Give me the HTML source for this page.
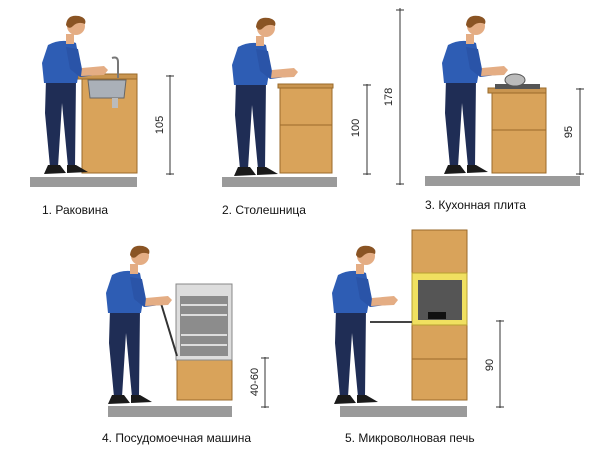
<!DOCTYPE html>
<html><head><meta charset="utf-8"><style>
html,body{margin:0;padding:0;background:#fff;width:600px;height:450px;overflow:hidden}
text{font-family:"Liberation Sans",sans-serif}
</style></head><body>
<svg width="600" height="450" viewBox="0 0 600 450" xmlns="http://www.w3.org/2000/svg">
<defs>
<g id="p">
  <path d="M10,66 L40,66 L39,154 L32,154 L26,90 L22,154 L14,154 L9,100 Z" fill="#1f2d55"/>
  <path d="M12,152 L24,152 L30,160 L8,161 Z M31,152 L40,152 L52,159 L31,160 Z" fill="#1a1a1a"/>
  <path d="M12,32 Q25,25 40,30 L44,52 L41,70 L8,70 L6,50 Z" fill="#2e5db4"/>
  <path d="M30,34 L42,36 L46,56 L68,54 L69,61 L44,64 L34,56 Z" fill="#2a54a8"/>
  <path d="M46,55 L68,53 L72,57 L68,62 L45,63 Z" fill="#e4ad84"/>
  <rect x="30" y="21" width="8" height="10" fill="#e4ad84"/>
  <circle cx="40" cy="13" r="9" fill="#e4ad84"/>
  <path d="M30,12 Q31,1 43,3 Q51,5 49,11 Q42,8 37,13 Q33,17 30,12 Z" fill="#8a5424"/>
</g>
</defs>
<g fill="#9a9a9a">
<rect x="30" y="177" width="107" height="10"/>
<rect x="222" y="177" width="115" height="10"/>
<rect x="425" y="176" width="155" height="10"/>
<rect x="108" y="406" width="124" height="11"/>
<rect x="340" y="406" width="127" height="11"/>
</g>
<g fill="#d9a35a" stroke="#9a6a2a" stroke-width="1">
<rect x="82" y="78" width="55" height="95"/>
<rect x="78" y="74" width="59" height="5" fill="#c99550"/>
<rect x="280" y="87" width="52" height="86"/>
<rect x="278" y="84" width="55" height="4" fill="#c99550"/>
<line x1="280" y1="125" x2="332" y2="125"/>
<rect x="492" y="92" width="54" height="81"/>
<rect x="488" y="88" width="58" height="5" fill="#c99550"/>
<line x1="492" y1="130" x2="546" y2="130"/>
<rect x="177" y="360" width="55" height="40"/>
<rect x="412" y="230" width="55" height="43"/>
<rect x="412" y="325" width="55" height="34"/>
<rect x="412" y="359" width="55" height="41"/>
</g>
<path d="M88,80 L126,80 L124,98 L90,98 Z" fill="#aab0b8" stroke="#666"/>
<path d="M118,78 L118,62 Q118,56 112,58" fill="none" stroke="#777" stroke-width="2"/>
<rect x="112" y="98" width="6" height="10" fill="#bbb"/>
<rect x="495" y="84" width="45" height="5" fill="#555"/>
<ellipse cx="515" cy="80" rx="10" ry="6" fill="#bbb" stroke="#555"/>
<rect x="176" y="284" width="56" height="76" fill="#ddd" stroke="#888"/>
<rect x="180" y="296" width="48" height="60" fill="#8c8c8c"/>
<path d="M181,305 h46 M181,315 h46 M181,335 h46 M181,345 h46" stroke="#ddd" stroke-width="2"/>
<line x1="160" y1="300" x2="177" y2="356" stroke="#333" stroke-width="2"/>
<rect x="412" y="273" width="55" height="52" fill="#f0e060" stroke="#b8a030"/>
<rect x="418" y="280" width="44" height="40" fill="#555"/>
<rect x="428" y="312" width="18" height="7" fill="#111"/>
<line x1="370" y1="322" x2="412" y2="322" stroke="#444" stroke-width="2"/>
<use href="#p" transform="translate(36,13)"/>
<use href="#p" transform="translate(226,15)"/>
<use href="#p" transform="translate(436,13)"/>
<use href="#p" transform="translate(100,243)"/>
<use href="#p" transform="translate(326,243)"/>
<g stroke="#333" stroke-width="1">
<line x1="170" y1="75" x2="170" y2="175"/><line x1="166" y1="76" x2="174" y2="76"/><line x1="166" y1="174" x2="174" y2="174"/>
<line x1="367" y1="84" x2="367" y2="175"/><line x1="363" y1="85" x2="371" y2="85"/><line x1="363" y1="174" x2="371" y2="174"/>
<line x1="400" y1="8" x2="400" y2="185"/><line x1="396" y1="10" x2="404" y2="10"/><line x1="396" y1="184" x2="404" y2="184"/>
<line x1="580" y1="88" x2="580" y2="175"/><line x1="576" y1="89" x2="584" y2="89"/><line x1="576" y1="174" x2="584" y2="174"/>
<line x1="265" y1="357" x2="265" y2="408"/><line x1="261" y1="358" x2="269" y2="358"/><line x1="261" y1="407" x2="269" y2="407"/>
<line x1="500" y1="320" x2="500" y2="408"/><line x1="496" y1="321" x2="504" y2="321"/><line x1="496" y1="407" x2="504" y2="407"/>
</g>
<g font-size="11" fill="#222" text-anchor="middle">
<text transform="translate(163,125) rotate(-90)">105</text>
<text transform="translate(359,128) rotate(-90)">100</text>
<text transform="translate(392,97) rotate(-90)">178</text>
<text transform="translate(572,132) rotate(-90)">95</text>
<text transform="translate(258,382) rotate(-90)">40-60</text>
<text transform="translate(493,365) rotate(-90)">90</text>
</g>
<g font-size="12" fill="#111">
<text x="42" y="214">1. Раковина</text>
<text x="222" y="214">2. Столешница</text>
<text x="425" y="209">3. Кухонная плита</text>
<text x="102" y="442">4. Посудомоечная машина</text>
<text x="345" y="442">5. Микроволновая печь</text>
</g>
</svg>
</body></html>
